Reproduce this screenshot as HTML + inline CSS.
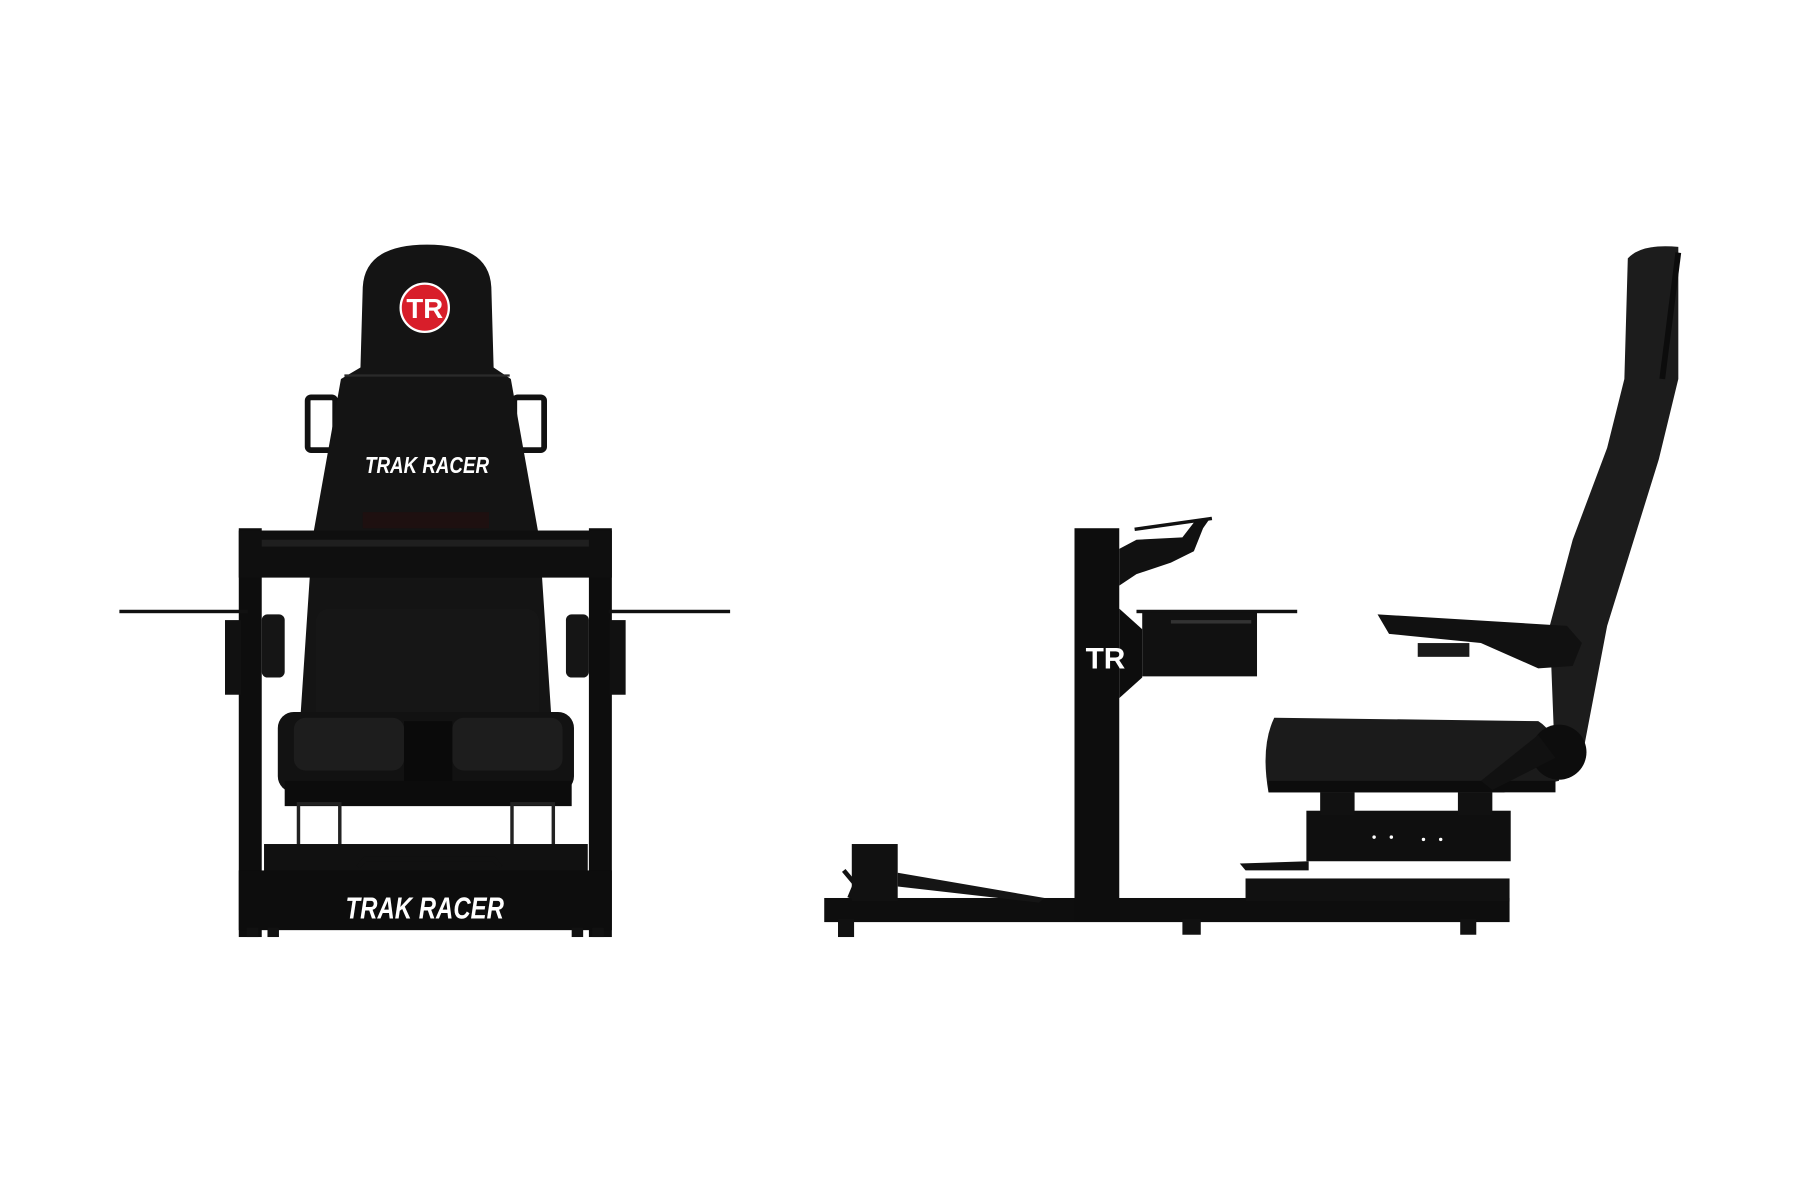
<!DOCTYPE html>
<html><head><meta charset="utf-8"><style>
html,body{margin:0;padding:0;background:#fff;}
svg{display:block;}
</style></head><body>
<svg width="1800" height="1200" viewBox="0 0 1568 1045" preserveAspectRatio="none" xmlns="http://www.w3.org/2000/svg">
<rect width="1568" height="1045" fill="#fff"/>
<!-- FRONT VIEW -->
<g>
<!-- handles -->
<rect x="268" y="346" width="24" height="46" rx="3" fill="none" stroke="#111" stroke-width="5"/>
<rect x="448" y="346" width="26" height="46" rx="3" fill="none" stroke="#111" stroke-width="5"/>
<!-- backrest -->
<path d="M316 250 Q318 213 372 213 Q426 213 428 250 L430 320 L445 330 L470 470 L480 620 L262 620 L272 470 L297 330 L314 320 Z" fill="#141414"/>
<path d="M300 327 L444 327" stroke="#2a2a2a" stroke-width="2"/>
<circle cx="370" cy="268" r="21" fill="#d81e2a" stroke="#fff" stroke-width="2"/>
<text x="370" y="277" font-family="Liberation Sans, sans-serif" font-weight="bold" font-size="24" fill="#fff" text-anchor="middle">TR</text>
<text x="372" y="412" font-family="Liberation Sans, sans-serif" font-weight="bold" font-style="italic" font-size="20" fill="#fff" text-anchor="middle" textLength="108" lengthAdjust="spacingAndGlyphs">TRAK RACER</text>
<rect x="316" y="446" width="110" height="14" fill="#1e1010"/>
<!-- lower seat -->
<rect x="275" y="530" width="195" height="100" rx="12" fill="#161616"/>
<rect x="242" y="620" width="258" height="70" rx="14" fill="#121212"/>
<rect x="256" y="625" width="96" height="46" rx="10" fill="#1d1d1d"/>
<rect x="394" y="625" width="96" height="46" rx="10" fill="#1d1d1d"/>
<rect x="352" y="628" width="42" height="60" fill="#0a0a0a"/>
<rect x="248" y="680" width="250" height="22" fill="#0c0c0c"/>
<!-- frame -->
<rect x="208" y="460" width="20" height="356" fill="#0d0d0d"/>
<rect x="513" y="460" width="20" height="356" fill="#0d0d0d"/>
<rect x="208" y="462" width="325" height="41" fill="#0f0f0f"/>
<rect x="228" y="470" width="285" height="6" fill="#1f1f1f"/>
<!-- wings -->
<rect x="104" y="531" width="112" height="3" fill="#111"/>
<rect x="530" y="531" width="106" height="3" fill="#111"/>
<rect x="228" y="535" width="20" height="55" rx="5" fill="#151515"/>
<rect x="493" y="535" width="20" height="55" rx="5" fill="#151515"/>
<rect x="196" y="540" width="14" height="65" fill="#111"/>
<rect x="531" y="540" width="14" height="65" fill="#111"/>
<!-- under seat mounts -->
<rect x="260" y="700" width="36" height="45" fill="none" stroke="#222" stroke-width="3"/>
<rect x="446" y="700" width="36" height="45" fill="none" stroke="#222" stroke-width="3"/>
<rect x="230" y="735" width="282" height="25" fill="#111"/>
<path d="M312 755 L318 748 L430 748 L436 755" fill="none" stroke="#111" stroke-width="4"/>
<rect x="208" y="758" width="325" height="52" fill="#0d0d0d"/>
<text x="370" y="800" font-family="Liberation Sans, sans-serif" font-weight="bold" font-style="italic" font-size="27" fill="#fff" text-anchor="middle" textLength="138" lengthAdjust="spacingAndGlyphs">TRAK RACER</text>
<rect x="215" y="808" width="10" height="8" fill="#111"/><rect x="233" y="808" width="10" height="8" fill="#111"/>
<rect x="498" y="808" width="10" height="8" fill="#111"/><rect x="516" y="808" width="10" height="8" fill="#111"/>
</g>
<!-- SIDE VIEW -->
<g>
<!-- base -->
<rect x="718" y="782" width="597" height="21" fill="#0e0e0e"/>
<rect x="730" y="800" width="14" height="16" fill="#111"/>
<rect x="1030" y="800" width="16" height="14" fill="#111"/>
<rect x="1272" y="800" width="14" height="14" fill="#111"/>
<!-- pedals -->
<rect x="742" y="735" width="40" height="50" fill="#111"/>
<path d="M782 760 L910 782 L905 786 L782 772 Z" fill="#151515"/>
<path d="M735 758 L745 770 L740 782" stroke="#111" stroke-width="4" fill="none"/>
<!-- upright -->
<rect x="936" y="460" width="39" height="342" fill="#0d0d0d"/>
<path d="M975 530 L995 548 L995 590 L975 608 Z" fill="#0d0d0d"/>
<text x="963" y="582" font-family="Liberation Sans, sans-serif" font-weight="bold" font-size="26" fill="#fff" text-anchor="middle">TR</text>
<!-- top bracket -->
<path d="M975 478 L990 470 L1030 468 L1040 455 L1055 450 L1048 460 L1040 480 L1020 490 L990 500 L975 510 Z" fill="#111"/>
<rect x="988" y="455" width="68" height="3" fill="#111" transform="rotate(-8 1020 456)"/>
<!-- monitor mount -->
<rect x="990" y="531" width="140" height="3" fill="#111"/>
<rect x="995" y="533" width="100" height="56" fill="#111"/>
<rect x="1020" y="540" width="70" height="3" fill="#333"/>
<!-- seat slider & base -->
<rect x="1085" y="765" width="230" height="20" fill="#111"/>
<path d="M1080 752 L1140 750 L1140 758 L1085 758 Z" fill="#111"/>
<rect x="1138" y="706" width="178" height="44" fill="#0f0f0f"/>
<rect x="1150" y="690" width="30" height="20" fill="#111"/>
<rect x="1270" y="690" width="30" height="20" fill="#111"/>
<circle cx="1197" cy="729" r="1.5" fill="#fff"/><circle cx="1212" cy="729" r="1.5" fill="#fff"/>
<circle cx="1240" cy="731" r="1.5" fill="#fff"/><circle cx="1255" cy="731" r="1.5" fill="#fff"/>
<!-- seat cushion -->
<path d="M1110 625 L1340 628 Q1360 640 1358 680 L1310 690 L1105 690 Q1098 650 1110 625 Z" fill="#1b1b1b"/>
<rect x="1105" y="680" width="250" height="10" fill="#0c0c0c"/>
<!-- backrest -->
<path d="M1418 225 Q1430 212 1462 215 L1462 330 L1445 400 L1400 545 L1380 650 L1355 675 L1350 545 L1370 470 L1400 390 L1415 330 Z" fill="#1c1c1c"/>
<path d="M1448 330 L1462 220" stroke="#0c0c0c" stroke-width="5"/>
<circle cx="1358" cy="655" r="24" fill="#0d0d0d"/>
<path d="M1290 680 L1340 640 L1355 660 L1300 688 Z" fill="#111"/>
<!-- armrest -->
<path d="M1200 535 L1365 545 L1378 560 L1370 580 L1340 582 L1290 560 L1210 552 Z" fill="#111"/>
<rect x="1235" y="560" width="45" height="12" fill="#1a1a1a"/>
</g>
</svg>
</body></html>
